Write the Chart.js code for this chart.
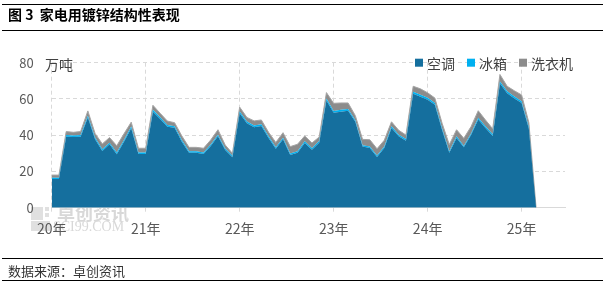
<!DOCTYPE html>
<html>
<head>
<meta charset="utf-8">
<script src="https://cdn.jsdelivr.net/npm/chart.js@4.4.0/dist/chart.umd.min.js"></script>
<style>
  html, body { margin: 0; padding: 0; background: #fff; }
  #wrap { position: relative; width: 605px; height: 284px; overflow: hidden; font-family: "Noto Sans CJK SC", sans-serif; }
  .rule { position: absolute; left: 2px; width: 601px; height: 1px; background: #000; }
  #title { position: absolute; left: 8px; top: 4px; font-size: 14px; font-weight: bold; color: #000; line-height: 20px; white-space: pre; }
  #source { position: absolute; left: 8px; top: 260px; font-size: 13px; color: #333; line-height: 21px; }
  canvas { position: absolute; left: 0; top: 0; }
</style>
</head>
<body>
<div id="wrap">
  <canvas id="zincChart" width="605" height="284"></canvas>
  <div class="rule" style="top:4px"></div>
  <div id="title">图 3  家电用镀锌结构性表现</div>
  <div class="rule" style="top:30px"></div>
  <div class="rule" style="top:258px"></div>
  <div id="source">数据来源：卓创资讯</div>
  <div class="rule" style="top:280px"></div>
</div>
<script>
// ==============================================================================
// 1. DATA
// ==============================================================================
// monthly categories Jan 2020 - Dec 2025 (axis runs to end of 2025)
const months = [];
for (let yr = 2020; yr <= 2025; yr++) {
    for (let m = 1; m <= 12; m++) months.push(yr + '-' + String(m).padStart(2, '0'));
}

// x labels are shown on every 13th category, as in the source chart
const yearLabels = ['20年', '21年', '22年', '23年', '24年', '25年'];
const labelEvery = 13;

// 万吨, Jan 2020 - Aug 2025
const airCon = [15.8, 15.8, 39.2, 39.0, 39.2, 49.8, 37.8, 31.3, 35.0, 29.5, 36.4, 43.8,
                29.6, 29.6, 53.0, 48.9, 44.7, 44.1, 36.4, 30.3, 30.3, 29.6, 34.0, 39.4,
                31.8, 27.8, 52.1, 46.6, 44.4, 45.1, 38.5, 32.5, 37.7, 29.1, 30.3, 35.7,
                32.0, 35.9, 59.2, 52.4, 53.0, 53.5, 47.4, 33.7, 33.0, 28.0, 33.0, 44.0,
                39.4, 37.0, 62.9, 61.2, 59.6, 56.8, 42.9, 30.3, 38.5, 33.3, 40.1, 48.6,
                44.0, 39.6, 68.5, 63.2, 60.3, 57.8, 43.6, 0];
const fridge = [0.7, 0.7, 0.9, 0.9, 0.9, 1.0, 0.9, 0.9, 0.9, 0.9, 0.9, 1.0,
                0.8, 0.8, 1.0, 1.0, 0.9, 0.9, 0.9, 0.8, 0.8, 0.8, 0.9, 0.9,
                0.8, 0.8, 1.0, 0.9, 0.9, 0.9, 0.9, 0.8, 0.9, 0.8, 0.8, 0.9,
                0.8, 0.9, 1.1, 1.0, 1.0, 1.0, 0.9, 0.8, 0.8, 0.8, 0.8, 0.9,
                0.9, 0.9, 1.1, 1.1, 1.0, 1.0, 0.9, 0.8, 0.9, 0.8, 0.9, 1.0,
                0.9, 0.9, 1.1, 1.0, 1.0, 1.0, 0.9, 0];
const washer = [1.5, 1.5, 1.9, 1.7, 1.9, 2.6, 2.3, 3.0, 2.8, 3.8, 3.5, 2.4,
                2.4, 2.4, 2.5, 2.2, 2.2, 1.9, 2.3, 2.2, 2.2, 2.4, 2.5, 2.7,
                2.0, 1.4, 2.4, 2.3, 2.6, 2.4, 2.2, 2.7, 2.8, 3.8, 3.9, 3.0,
                2.9, 2.2, 3.2, 4.2, 3.8, 3.3, 2.5, 3.2, 3.7, 3.7, 3.4, 2.5,
                2.4, 2.2, 3.0, 3.3, 2.8, 2.7, 2.8, 3.7, 3.6, 4.2, 3.7, 3.9,
                3.5, 3.0, 3.9, 2.8, 3.2, 3.4, 2.5, 0];

// ==============================================================================
// 2. STYLE
// ==============================================================================
const FONT = '"Noto Sans CJK SC", sans-serif';
const GRID = '#d9d9d9';
const TEXT = '#595959';

// ==============================================================================
// 3. PLUGINS (legend inside the plot, unit label, watermark)
// ==============================================================================
const cornerLegend = {
    id: 'cornerLegend',
    afterDraw(chart) {
        const c = chart.ctx;
        const y = chart.scales.y.getPixelForValue(80);
        let x = 415;
        c.save();
        c.font = '14px ' + FONT;
        c.textBaseline = 'middle';
        chart.data.datasets.forEach(ds => {
            c.fillStyle = ds.backgroundColor;
            c.fillRect(x, y - 4, 8, 8);
            c.fillStyle = '#404040';
            c.fillText(ds.label, x + 12, y + 1);
            x += 12 + c.measureText(ds.label).width + 12;
        });
        // unit
        c.fillText('万吨', 45, y + 2);
        c.restore();
    }
};

const watermark = {
    id: 'watermark',
    beforeDraw(chart) {
        const c = chart.ctx;
        c.save();
        c.fillStyle = '#e0e0e0';
        c.fillRect(31, 207, 12, 13);
        c.fillRect(31, 221, 19, 10);
        c.fillRect(45, 207, 4, 4);
        c.fillRect(45, 213, 4, 4);
        c.fillStyle = '#d8d8d8';
        c.font = 'bold 18px ' + FONT;
        c.textBaseline = 'alphabetic';
        c.fillText('卓创资讯', 57, 220);
        c.font = '14px "Liberation Serif", serif';
        c.fillText('SCI99.COM', 53, 231);
        c.restore();
    }
};

// ==============================================================================
// 4. CHART
// ==============================================================================
const ctx = document.getElementById('zincChart').getContext('2d');
new Chart(ctx, {
    type: 'line',
    data: {
        labels: months,
        datasets: [
            { label: '空调', data: airCon, backgroundColor: '#156f9e', borderColor: '#156f9e', borderWidth: 0, fill: 'origin' },
            { label: '冰箱', data: fridge, backgroundColor: '#00b0f0', borderColor: '#00b0f0', borderWidth: 0, fill: '-1' },
            { label: '洗衣机', data: washer, backgroundColor: '#8c8c8c', borderColor: '#a6a6a6', borderWidth: 1, fill: '-1' }
        ]
    },
    options: {
        responsive: false,
        animation: false,
        devicePixelRatio: 1,
        layout: { padding: { top: 62.7, right: 40, bottom: 0, left: 0 } },
        plugins: { legend: { display: false }, tooltip: { enabled: false } },
        elements: { point: { radius: 0 }, line: { tension: 0 } },
        scales: {
            x: {
                grid: {
                    color: c => (c.index % labelEvery === 0 ? GRID : 'transparent'),
                    tickLength: 4
                },
                border: { display: true, color: GRID, dash: [4, 3] },
                ticks: {
                    autoSkip: false,
                    maxRotation: 0,
                    padding: 9,
                    color: TEXT,
                    font: { size: 14, family: FONT },
                    callback: (v, i) => (i % labelEvery === 0 ? yearLabels[i / labelEvery] : '')
                },
                afterFit: s => { s.height = 284 - 207.7; }
            },
            y: {
                stacked: true,
                min: 0,
                max: 80,
                ticks: { stepSize: 20, padding: 18, color: TEXT, font: { size: 13, family: FONT } },
                grid: { color: c => (c.tick.value === 0 ? 'transparent' : GRID), drawTicks: false },
                border: { display: false, dash: [4, 3] },
                afterFit: s => { s.width = 51.7; }
            }
        }
    },
    plugins: [watermark, cornerLegend]
});
</script>
</body>
</html>
